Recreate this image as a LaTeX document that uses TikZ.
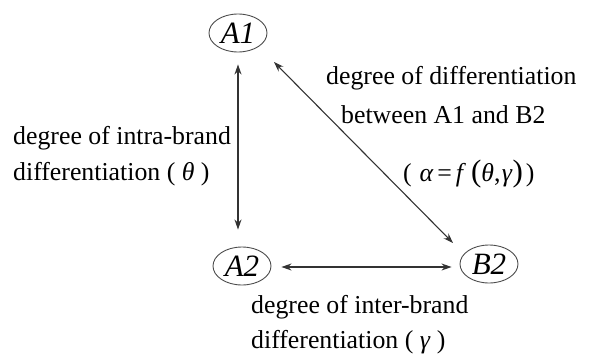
\documentclass[tikz,border=0pt]{standalone}
\usepackage{fontspec}
\setmainfont{Liberation Serif}
\usetikzlibrary{shapes.geometric,arrows.meta,calc}
\begin{document}
\begin{tikzpicture}[x=1pt,y=-1pt,
  brand/.style={ellipse,draw=black!70,line width=0.9pt,minimum width=58pt,minimum height=38pt,inner sep=0pt,font=\fontsize{31}{31}\selectfont\itshape},
  lbl/.style={anchor=base west,inner sep=0pt,font=\fontsize{25.8}{30}\selectfont,text=black},
  link/.style={{Stealth[length=10pt,width=7pt]}-{Stealth[length=10pt,width=7pt]},line width=1.1pt,draw=black!80}]
\useasboundingbox (0,0) rectangle (590,356);
\node[brand] (A1) at (238,33) {A1};
\node[brand] (A2) at (242,266) {A2};
\node[brand] (B2) at (489,264) {B2};
\draw[link] ($(A1.south)+(0,12)$) -- ($(A1.south |- A2.north)+(0,-17)$);
\draw[link] ($(A1.center)+(36,29)$) -- ($(B2.center)+(-36,-21)$);
\draw[link] ($(A2.east)+(10,1)$) -- ($(B2.west |- A2.east)+(-8,1)$);
\node[lbl] (t1) at (326,84) {degree of differentiation};
\node[lbl] (t2) at (341,123) {between A1 and B2};
\node[lbl] (t3) at (403,181) {(\hspace{0.3em}\textit{α}\hspace{0.15em}=\hspace{0.15em}\textit{f}\hspace{0.2em}{\fontsize{31}{31}\selectfont(}\textit{θ},\hspace{0.05em}\textit{γ}{\fontsize{31}{31}\selectfont)}\hspace{0.12em})};
\node[lbl] (t4) at (13,144) {degree of intra-brand};
\node[lbl] (t5) at (13,180) {differentiation ( \textit{θ} )};
\node[lbl] (t6) at (251,313) {degree of inter-brand};
\node[lbl] (t7) at (251,348) {differentiation ( \textit{γ} )};
\end{tikzpicture}
\end{document}
